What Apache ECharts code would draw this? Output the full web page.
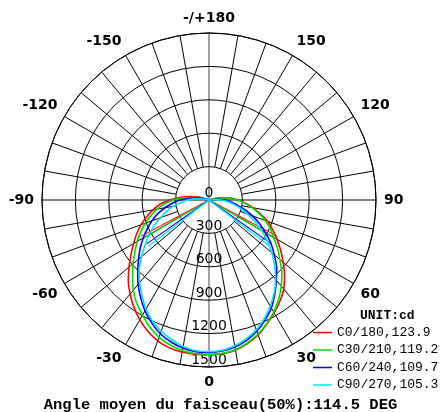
<!DOCTYPE html>
<html>
<head>
<meta charset="utf-8">
<script src="https://cdn.jsdelivr.net/npm/echarts@6/dist/echarts.min.js"></script>
<style>
  html, body { margin: 0; padding: 0; background: #fff; }
  #main { width: 441px; height: 412px; }
</style>
</head>
<body>
<div id="main"></div>
<script>
// gamma angles (deg from nadir), same for both halves of every C plane
const gammaDeg = [0, 5, 10, 15, 20, 25, 30, 35, 40, 45, 50, 55, 60, 65, 70, 75, 80, 85, 90, 95, 100, 105, 110, 115];

// intensities cd, left half (drawn on -gamma side) and right half
const c0Left  = [1390, 1390, 1387, 1375, 1346, 1301, 1243, 1176, 1102, 1025, 938, 855, 783, 716, 649, 579, 510, 442, 350, 265, 180, 115, 40, 0];
const c0Right = [1390, 1385, 1370, 1335, 1290, 1230, 1170, 1110, 1045, 960, 870, 785, 705, 630, 560, 475, 400, 330, 260, 190, 120, 55, 0, 0];
const c30Left  = [1388, 1386, 1373, 1348, 1313, 1259, 1193, 1133, 1058, 970, 890, 812, 745, 676, 610, 540, 475, 400, 321, 215, 130, 60, 0, 0];
const c30Right = [1388, 1383, 1365, 1330, 1283, 1225, 1163, 1090, 1010, 925, 830, 750, 670, 605, 538, 465, 392, 320, 255, 190, 120, 50, 0, 0];
const c60Left  = [1370, 1367, 1350, 1320, 1278, 1218, 1150, 1070, 990, 905, 825, 755, 682, 612, 545, 475, 400, 330, 260, 180, 100, 30, 0, 0];
const c60Right = [1370, 1362, 1340, 1305, 1255, 1190, 1120, 1030, 940, 860, 765, 680, 585, 500, 415, 330, 255, 200, 145, 80, 20, 0, 0, 0];
const c90Left  = [1362, 1360, 1335, 1297, 1255, 1200, 1132, 1050, 970, 887, 790, 700, 620, 545, 462, 395, 330, 250, 190, 120, 50, 0, 0, 0];
const c90Right = [1362, 1355, 1330, 1290, 1240, 1175, 1100, 1020, 930, 835, 735, 640, 540, 455, 365, 295, 225, 165, 110, 55, 0, 0, 0, 0];

const planeNames = ['C0/180', 'C30/210', 'C60/240', 'C90/270'];
const beamAngles = [123.9, 119.2, 109.7, 105.3];
const planeColors = ['#ff0000', '#00dd00', '#0000ff', '#00e6f0'];
const meanBeam = 114.5;

const radiusTicks = [0, 300, 600, 900, 1200, 1500];

function buildCurve(left, right) {
  let pts = [];
  // left half, from the top down to nadir
  let lastL = left.indexOf(0);
  if (lastL < 0) lastL = left.length - 1;
  for (let i = lastL; i > 0; i--) {
    pts.push([left[i], 360 - gammaDeg[i]]);
  }
  pts.push([right[0], 0]);
  let lastR = right.indexOf(0);
  if (lastR < 0) lastR = right.length - 1;
  for (let i = 1; i <= lastR; i++) {
    pts.push([right[i], gammaDeg[i]]);
  }
  return pts;
}

const planes = [[c0Left, c0Right], [c30Left, c30Right], [c60Left, c60Right], [c90Left, c90Right]];

let series = [];
planes.forEach((p, k) => {
  let name = planeNames[k] + ',' + beamAngles[k];
  series.push({
    name: name,
    type: 'line',
    coordinateSystem: 'polar',
    polarIndex: 0,
    showSymbol: false,
    smooth: 0.2,
    lineStyle: { color: planeColors[k], width: 1.6 },
    itemStyle: { color: planeColors[k] },
    data: buildCurve(p[0], p[1]),
    z: 5 + k
  });
  // 50% beam lines
  let half = Math.max(...p[0], ...p[1]) / 2;
  series.push({
    name: name,
    type: 'line',
    coordinateSystem: 'polar',
    polarIndex: 0,
    showSymbol: false,
    lineStyle: { color: planeColors[k], width: 1.1 },
    itemStyle: { color: planeColors[k] },
    data: [[half, 360 - beamAngles[k] / 2], [0, 0], [half, beamAngles[k] / 2]],
    z: 5 + k
  });
});

const T = 'rgba(0,0,0,0)';
const chart = echarts.init(document.getElementById('main'), null, { renderer: 'canvas' });
chart.setOption({
  animation: false,
  backgroundColor: '#fff',
  title: [{
    text: 'Angle moyen du faisceau(50%):' + meanBeam + ' DEG',
    left: 'center',
    top: 397,
    padding: 0,
    textStyle: { fontFamily: 'Liberation Mono', fontWeight: 'bold', fontSize: 15.5, color: '#000' }
  }, {
    text: 'UNIT:cd',
    left: 360,
    top: 309,
    padding: 0,
    textStyle: { fontFamily: 'Liberation Mono', fontWeight: 'bold', fontSize: 13, color: '#000' }
  }],
  legend: {
    orient: 'vertical',
    left: 313,
    top: 326,
    padding: 0,
    itemGap: 4.5,
    itemWidth: 19,
    itemHeight: 1.5,
    icon: 'rect',
    textStyle: { fontFamily: 'Liberation Mono', fontSize: 13, color: '#000', lineHeight: 13 },
    data: planeNames.map((n, k) => n + ',' + beamAngles[k])
  },
  polar: [
    { center: [209, 200], radius: [0, 167] },
    { center: [209, 200], radius: [33.4, 167] }
  ],
  angleAxis: [{
    polarIndex: 0,
    type: 'value',
    min: 0,
    max: 360,
    interval: 30,
    startAngle: 270,
    clockwise: false,
    axisLine: { show: true, lineStyle: { color: '#000', width: 1 } },
    axisTick: { show: false },
    axisLabel: {
      margin: 8,
      fontFamily: 'DejaVu Sans',
      fontWeight: 'bold',
      fontSize: 14,
      color: '#000',
      formatter: function (v) {
        if (v === 180) return '-/+180';
        if (v >= 360) return '';
        return v > 180 ? String(v - 360) : String(v);
      }
    },
    splitLine: { show: true, lineStyle: { color: ['#666', T, T, '#000', T, T], width: 1.2 } }
  }, {
    polarIndex: 1,
    type: 'value',
    min: 0,
    max: 360,
    interval: 10,
    startAngle: 270,
    clockwise: false,
    axisLine: { show: false },
    axisTick: { show: false },
    axisLabel: { show: false },
    splitLine: { show: true, lineStyle: { color: [T, '#000', '#000', '#000', '#000', '#000', '#000', '#000', '#000'], width: 1 } }
  }],
  radiusAxis: [{
    polarIndex: 0,
    type: 'value',
    min: radiusTicks[0],
    max: radiusTicks[radiusTicks.length - 1],
    interval: 300,
    axisLine: { show: false },
    axisTick: { show: false },
    axisLabel: {
      margin: 0,
      align: 'center',
      verticalAlign: 'bottom',
      showMinLabel: true,
      showMaxLabel: true,
      fontFamily: 'DejaVu Sans',
      fontSize: 14,
      color: '#000',
      formatter: function (v) { return String(v); }
    },
    splitLine: { show: true, lineStyle: { color: '#000', width: 1 } },
    z: 3
  }, {
    polarIndex: 1,
    type: 'value',
    min: 0,
    max: 1,
    axisLine: { show: false },
    axisTick: { show: false },
    axisLabel: { show: false },
    splitLine: { show: false }
  }],
  series: series
});
</script>
</body>
</html>
